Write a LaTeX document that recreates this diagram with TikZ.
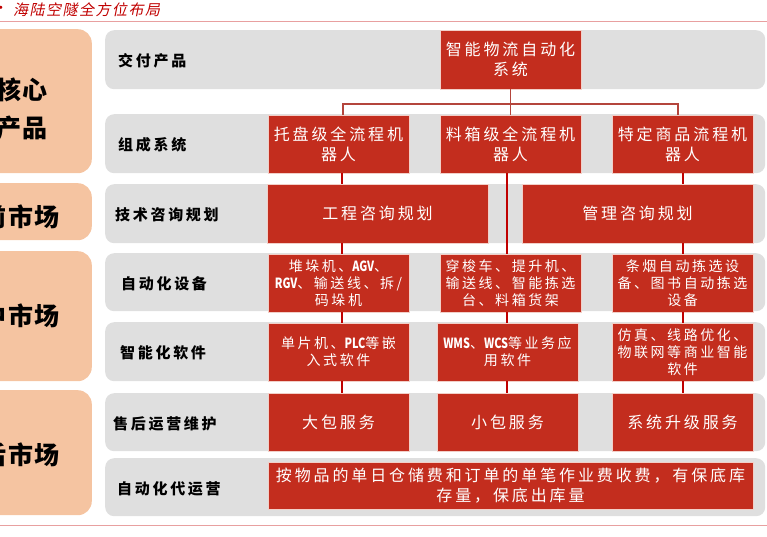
\documentclass[tikz,border=0pt]{standalone}
\usepackage{fontspec}
\usepackage{xcolor}
\setmainfont{Noto Sans CJK SC}
\newfontfamily\cjk[LetterSpace=18]{Noto Sans CJK SC}
\newfontfamily\latn[FakeStretch=0.78]{Noto Sans CJK SC}
\newfontfamily\cjkmkt[LetterSpace=6]{Noto Sans CJK SC}
\newfontfamily\cjktitle[FakeSlant=0.2,LetterSpace=10]{Noto Sans CJK SC}
\newcommand\lt[1]{{\latn\bfseries #1}}

\definecolor{boxred}{HTML}{C32D1E}
\definecolor{boxedge}{HTML}{F2CFC8}
\definecolor{rowgray}{HTML}{DFDFDF}
\definecolor{peach}{HTML}{F5C4A1}
\definecolor{busred}{HTML}{B4453C}
\definecolor{tickred}{HTML}{C00000}
\definecolor{rulered}{HTML}{E8A0A0}

\tikzset{
  rowbox/.style={fill=rowgray, rounded corners=9pt, minimum width=660pt, inner sep=0pt},
  rowlabel/.style={anchor=west, inner sep=0pt, font=\cjk\bfseries\fontsize{15}{18}\selectfont},
  market/.style={fill=peach, rounded corners=14pt, minimum width=140pt, inner sep=0pt},
  mkttext/.style={align=center, inner sep=0pt, font=\cjkmkt\bfseries\fontsize{25}{38}\selectfont},
  redbox/.style={fill=boxred, draw=boxedge, line width=0.8pt, text=white, align=center,
    inner sep=0pt, minimum width=141pt, minimum height=58pt, font=\cjk\fontsize{16}{20}\selectfont},
  smallred/.style={redbox, font=\cjk\fontsize{14}{17}\selectfont},
  bus/.style={draw=busred, line width=1.4pt},
  tick/.style={draw=tickred, line width=1.6pt},
  rule/.style={draw=rulered, line width=1pt}
}

\begin{document}
\begin{tikzpicture}[x=1pt,y=-1pt]
%%%%%frame starts here
\useasboundingbox (0,0) rectangle (767,537);
\clip (0,0) rectangle (767,537);
\def\ya{21.5}
\def\yb{525}

\node[inner sep=0pt, text=tickred, font=\fontsize{15}{18}\selectfont] (dot) at (1,10) {·};
\node[anchor=west, inner sep=0pt, text=tickred, font=\cjktitle\fontsize{15}{18}\selectfont] (title) at (13,10) {海陆空隧全方位布局};
\draw[rule] (0,\ya) -- (767,\ya);
\draw[rule] (0,\yb) -- (767,\yb);

%%%%%markets on the left
\foreach \n/\y/\h in {1/29/144,2/183/57,3/251/130,4/390/125}
  \node[market, minimum height=\h pt, anchor=north east] (mkt\n) at (92,\y) {};
\node[mkttext] (mkttext1) at (22,109) {核心\\产品};
\node[mkttext] (mkttext2) at (21,217) {前市场};
\node[mkttext] (mkttext3) at (21,316) {中市场};
\node[mkttext] (mkttext4) at (21,455) {后市场};

%%%%%gray rows
\foreach \n/\y/\h in {1/30/59,2/114/59,3/184/59,4/253/58,5/322/59,6/393/58,7/458/58}
  \node[rowbox, minimum height=\h pt, anchor=north west] (row\n) at (105,\y) {};
\foreach \n/\x/\t in {1/13/交付产品,2/13/组成系统,3/10/技术咨询规划,4/16/自动化设备,5/15/智能化软件,6/8/售后运营维护,7/12/自动化代运营}
  \node[rowlabel] (lab\n) at ([xshift=\x pt, yshift=-1.5pt]row\n.west) {\t};

%%%%%red boxes
\node[redbox, minimum height=59pt] (sys) at (510.5,59.5) {智能物流自动化\\系统};

\node[redbox] (robotA) at (338.5,144) {托盘级全流程机\\器人};
\node[redbox] (robotB) at (510.5,144) {料箱级全流程机\\器人};
\node[redbox] (robotC) at (682.5,144) {特定商品流程机\\器人};

\node[redbox, minimum width=221pt, minimum height=59pt] (plan1) at (377.5,213.5) {工程咨询规划};
\node[redbox, minimum width=231pt, minimum height=59pt] (plan2) at (637.5,213.5) {管理咨询规划};

\node[smallred] (devA) at (338.5,283) {堆垛机、\lt{AGV}、\\\lt{RGV}、输送线、拆/\\码垛机};
\node[smallred] (devB) at (510.5,283) {穿梭车、提升机、\\输送线、智能拣选\\台、料箱货架};
\node[smallred] (devC) at (682.5,283) {条烟自动拣选设\\备、图书自动拣选\\设备};

\node[smallred] (softA) at (338.5,352) {单片机、\lt{PLC}等嵌\\入式软件};
\node[smallred] (softB) at (507.5,352) {\lt{WMS}、\lt{WCS}等业务应\\用软件};
\node[smallred] (softC) at (682.5,352) {仿真、线路优化、\\物联网等商业智能\\软件};

\node[redbox] (servA) at (338.5,422) {大包服务};
\node[redbox] (servB) at (507.5,422) {小包服务};
\node[redbox] (servC) at (682.5,422) {系统升级服务};

\node[redbox, minimum width=485pt, minimum height=47pt] (oper) at (510.5,485.5) {按物品的单日仓储费和订单的单笔作业费收费，有保底库\\存量，保底出库量};

%%%%%connectors
\coordinate (busA) at (343,104);
\coordinate (busC) at (678,104);
\coordinate (colA) at (342,0);
\coordinate (colB) at (507,0);
\coordinate (colC) at (683,0);

\draw[bus] (sys.south) -- (robotB.north);
\draw[bus] (busA |- robotA.north) -- (busA) -- (busC) -- (busC |- robotC.north);

\foreach \a/\b in {robotA/plan1,plan1/devA,devA/softA,softA/servA}
  \draw[tick] (colA |- \a.south) -- (colA |- \b.north);
\foreach \a/\b in {robotC/plan2,plan2/devC,devC/softC,softC/servC}
  \draw[tick] (colC |- \a.south) -- (colC |- \b.north);
\foreach \a/\b in {robotB/devB,devB/softB,softB/servB}
  \draw[tick] (colB |- \a.south) -- (colB |- \b.north);
%%%%%connectors end here
\end{tikzpicture}
\end{document}
